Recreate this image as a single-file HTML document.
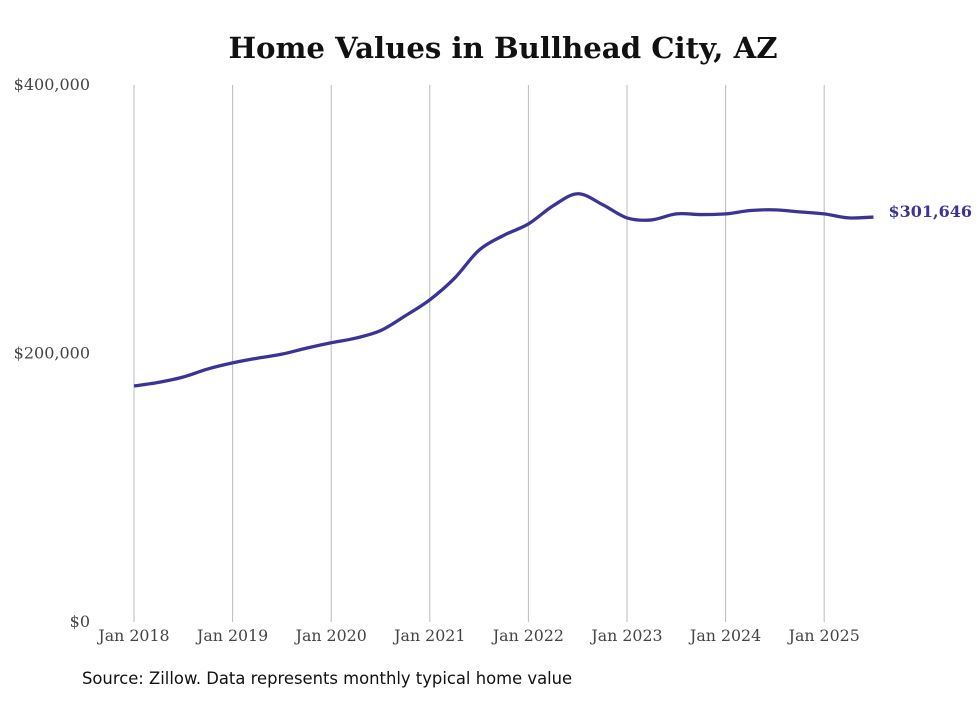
<!DOCTYPE html>
<html><head><meta charset="utf-8"><style>
body{margin:0;background:#fff;}
svg text{font-family:"DejaVu Serif","Liberation Serif",serif;}
</style></head><body>
<svg id="chart" width="980" height="699" xmlns="http://www.w3.org/2000/svg">
<rect width="980" height="699" fill="#fff"/>
<text x="503" y="58" text-anchor="middle" font-size="29.2" font-weight="bold" fill="#111">Home Values in Bullhead City, AZ</text>
<g id="grid"></g><g id="yaxis"></g><g id="xaxis"></g>
<path id="line" fill="none" stroke="#3b3496" stroke-width="3.3"/>
<text id="endlabel" font-size="16" font-weight="bold" fill="#3b3496"></text>
<text x="82" y="684" font-size="16.4" fill="#111" style="font-family:'DejaVu Sans','Liberation Sans',sans-serif">Source: Zillow. Data represents monthly typical home value</text>
</svg>
<script>
const xLabels=["Jan 2018","Jan 2019","Jan 2020","Jan 2021","Jan 2022","Jan 2023","Jan 2024","Jan 2025"];
const yTicks=[0,200000,400000];
const yTickLabels=["$0","$200,000","$400,000"];
const months=[0,3,6,9,12,15,18,21,24,27,30,33,36,39,42,45,48,51,54,57,60,63,66,69,72,75,78,81,84,87,90];
const values=[175800,178500,182500,188500,193000,196500,199500,204000,208000,211500,217000,228000,240000,256000,277000,288000,296500,310000,319000,311000,301000,299500,304000,303500,304000,306500,307000,305500,304000,301000,301646];
const sx=m=>134+m*(98.6/12);
const sy=v=>622-v*(537/400000);
const svg=document.getElementById('chart'),NS="http://www.w3.org/2000/svg";
const g=document.getElementById('grid'),ya=document.getElementById('yaxis'),xa=document.getElementById('xaxis');
xLabels.forEach((l,i)=>{
 const x=sx(i*12);
 const ln=document.createElementNS(NS,'line');
 
 
 ln.setAttribute('x1',x);ln.setAttribute('x2',x);ln.setAttribute('y1',85);ln.setAttribute('y2',622);
 ln.setAttribute('stroke','#bbb');ln.setAttribute('stroke-width','1');g.appendChild(ln);
 const t=document.createElementNS(NS,'text');
 
 
 t.setAttribute('x',x);t.setAttribute('y',641);t.setAttribute('text-anchor','middle');
 t.setAttribute('font-size','15.8');t.setAttribute('fill','#444');t.textContent=l;xa.appendChild(t);
});
yTicks.forEach((v,i)=>{
 const t=document.createElementNS(NS,'text');
 
 
 t.setAttribute('x',90);t.setAttribute('y',sy(v)+5);t.setAttribute('text-anchor','end');
 t.setAttribute('font-size','16');t.setAttribute('fill','#444');t.textContent=yTickLabels[i];ya.appendChild(t);
});
const pts=months.map((m,i)=>[sx(m),sy(values[i])]);
let d=`M${pts[0][0]},${pts[0][1]}`;
for(let i=0;i<pts.length-1;i++){
 const p0=pts[Math.max(0,i-1)],p1=pts[i],p2=pts[i+1],p3=pts[Math.min(pts.length-1,i+2)];
 const c1=[p1[0]+(p2[0]-p0[0])/6,p1[1]+(p2[1]-p0[1])/6];
 const c2=[p2[0]-(p3[0]-p1[0])/6,p2[1]-(p3[1]-p1[1])/6];
 d+=` C${c1[0]},${c1[1]} ${c2[0]},${c2[1]} ${p2[0]},${p2[1]}`;
}
document.getElementById('line').setAttribute('d',d);
const last=pts[pts.length-1],el=document.getElementById('endlabel');
el.setAttribute('x',last[0]+15);el.setAttribute('y',last[1]+0);
el.textContent='$'+values[values.length-1].toLocaleString('en-US');
</script>
</body></html>
